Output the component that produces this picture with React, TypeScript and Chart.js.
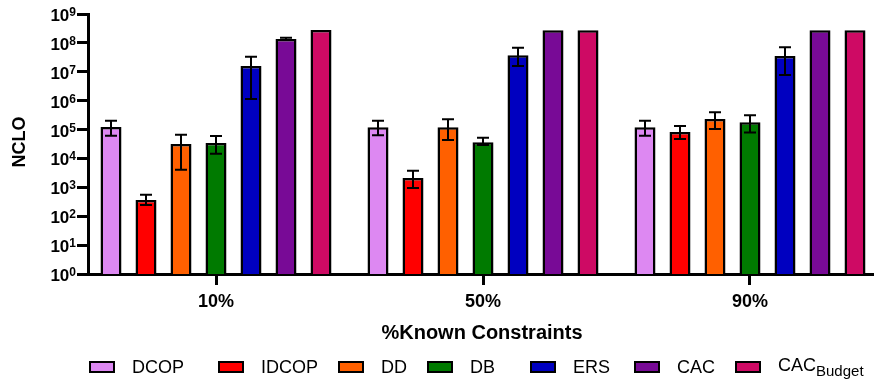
import React, { useEffect, useRef } from 'react';
import { Chart, registerables } from 'chart.js';

Chart.register(...registerables);

const categories = ['10%', '50%', '90%'];
const seriesNames = ['DCOP', 'IDCOP', 'DD', 'DB', 'ERS', 'CAC', 'CAC_Budget'];
const seriesColors = ['#DD88F2', '#FF0000', '#FF6000', '#007A00', '#0000C0', '#780A96', '#CE0A64'];

const dcopValues = [1.22e5, 1.19e5, 1.19e5];
const idcopValues = [364, 2100, 8.2e4];
const ddValues = [3.16e4, 1.19e5, 2.32e5];
const dbValues = [3.42e4, 3.6e4, 1.78e5];
const ersValues = [1.58e7, 3.7e7, 3.5e7];
const cacValues = [1.36e8, 2.75e8, 2.75e8];
const cacBudgetValues = [2.78e8, 2.75e8, 2.75e8];

const dcopHigh = [2.0e5, 2.0e5, 2.0e5];
const dcopLow = [6.1e4, 6.3e4, 6.1e4];
const idcopHigh = [556, 3770, 1.33e5];
const idcopLow = [245, 948, 4.7e4];
const ddHigh = [6.6e4, 2.26e5, 3.98e5];
const ddLow = [4.07e3, 4.35e4, 1.04e5];
const dbHigh = [6.0e4, 5.2e4, 3.1e5];
const dbLow = [1.46e4, 2.92e4, 7.98e4];
const ersHigh = [3.3e7, 6.8e7, 7.0e7];
const ersLow = [1.14e6, 1.58e7, 7.7e6];
const cacHigh = [1.5e8, null, null];
const cacLow = [1.25e8, null, null];
const cacBudgetHigh = [null, null, null];
const cacBudgetLow = [null, null, null];

const yExponents = [0, 1, 2, 3, 4, 5, 6, 7, 8, 9];
const xTitle = '%Known Constraints';
const yTitle = 'NCLO';

const allValues = [dcopValues, idcopValues, ddValues, dbValues, ersValues, cacValues, cacBudgetValues];
const allHigh = [dcopHigh, idcopHigh, ddHigh, dbHigh, ersHigh, cacHigh, cacBudgetHigh];
const allLow = [dcopLow, idcopLow, ddLow, dbLow, ersLow, cacLow, cacBudgetLow];

const FONT = '"Liberation Sans", Arial, sans-serif';

const errorBarPlugin = {
  id: 'errorBars',
  afterDatasetsDraw(chart: any) {
    const ctx = chart.ctx;
    const yScale = chart.scales.y;
    ctx.save();
    ctx.strokeStyle = '#000';
    ctx.lineWidth = 2;
    chart.data.datasets.forEach((ds: any, di: number) => {
      const meta = chart.getDatasetMeta(di);
      meta.data.forEach((el: any, i: number) => {
        const hi = allHigh[di][i];
        const lo = allLow[di][i];
        if (hi == null || lo == null) return;
        const x = el.x;
        const yh = yScale.getPixelForValue(hi);
        const yl = yScale.getPixelForValue(lo);
        const cap = 6;
        ctx.beginPath();
        ctx.moveTo(x, yh);
        ctx.lineTo(x, yl);
        ctx.moveTo(x - cap, yh);
        ctx.lineTo(x + cap, yh);
        ctx.moveTo(x - cap, yl);
        ctx.lineTo(x + cap, yl);
        ctx.stroke();
      });
    });
    ctx.restore();
  },
};

const axisTextPlugin = {
  id: 'axisText',
  afterDraw(chart: any) {
    const ctx = chart.ctx;
    const yScale = chart.scales.y;
    const xScale = chart.scales.x;
    ctx.save();
    ctx.fillStyle = '#000';
    const labelRight = yScale.right - 12;
    yExponents.forEach((e) => {
      const py = yScale.getPixelForValue(Math.pow(10, e));
      ctx.textAlign = 'right';
      ctx.textBaseline = 'alphabetic';
      ctx.font = `bold 12px ${FONT}`;
      const ew = ctx.measureText(String(e)).width;
      ctx.fillText(String(e), labelRight, py + 2);
      ctx.font = `bold 17px ${FONT}`;
      ctx.fillText('10', labelRight - ew, py + 7);
    });
    ctx.textAlign = 'center';
    ctx.textBaseline = 'middle';
    ctx.font = `bold 18px ${FONT}`;
    categories.forEach((c, i) => {
      ctx.fillText(c, xScale.getPixelForValue(i), xScale.top + 28.5);
    });
    ctx.font = `bold 20px ${FONT}`;
    ctx.fillText(xTitle, xScale.getPixelForValue(1) - 1, xScale.top + 59);
    ctx.font = `bold 18px ${FONT}`;
    ctx.translate(20, (yScale.top + yScale.bottom) / 2 - 2);
    ctx.rotate(-Math.PI / 2);
    ctx.fillText(yTitle, 0, 0);
    ctx.restore();
  },
};

const legendLefts = [89, 218, 338, 427, 530, 634, 735];

export default function App() {
  const canvasRef = useRef<HTMLCanvasElement | null>(null);

  useEffect(() => {
    const canvas = canvasRef.current;
    if (!canvas) return;
    const unit = 267;
    const xMin = -(216 - 88) / unit;
    const xMax = xMin + (874 - 88) / unit;
    const chart = new Chart(canvas, {
      type: 'bar',
      data: {
        datasets: seriesNames.map((name, di) => ({
          label: name,
          data: allValues[di].map((v, i) => ({ x: i, y: v })),
          backgroundColor: seriesColors[di],
          borderColor: '#000',
          borderWidth: 2.5,
          borderSkipped: 'start',
          categoryPercentage: 245 / 267,
          barPercentage: 0.6,
        })),
      },
      options: {
        responsive: false,
        animation: false,
        devicePixelRatio: 1,
        layout: { padding: { top: 14, right: 0, left: 0, bottom: 0 } },
        plugins: {
          legend: { display: false },
          tooltip: { enabled: false },
        },
        scales: {
          x: {
            type: 'linear',
            min: xMin,
            max: xMax,
            offset: false,
            bounds: 'data',
            afterBuildTicks: (s: any) => {
              s.ticks = categories.map((_, i) => ({ value: i }));
            },
            afterFit: (s: any) => {
              s.height = 383 - 274;
            },
            ticks: { display: false },
            grid: {
              offset: false,
              drawOnChartArea: false,
              drawTicks: true,
              tickLength: 11,
              tickWidth: 3,
              tickColor: '#000',
            },
            border: { display: true, color: '#000', width: 3 },
          },
          y: {
            type: 'logarithmic',
            min: 1,
            max: 1e9,
            afterBuildTicks: (s: any) => {
              s.ticks = yExponents.map((e) => ({ value: Math.pow(10, e) }));
            },
            afterFit: (s: any) => {
              s.width = 88;
            },
            ticks: { display: false },
            grid: {
              drawOnChartArea: false,
              drawTicks: true,
              tickLength: 11,
              tickWidth: 3,
              tickColor: '#000',
            },
            border: { display: true, color: '#000', width: 3 },
          },
        },
      },
      plugins: [errorBarPlugin, axisTextPlugin],
    } as any);
    return () => chart.destroy();
  }, []);

  return (
    <div style={{ position: 'fixed', left: 0, top: 0, width: 874, height: 383, overflow: 'hidden', background: '#fff' }}>
      <canvas ref={canvasRef} width={874} height={383} style={{ position: 'absolute', left: 0, top: 0, width: 874, height: 383 }} />
      {seriesNames.map((name, i) => (
        <div
          key={name}
          style={{
            position: 'absolute',
            left: legendLefts[i],
            top: 356,
            height: 22,
            display: 'flex',
            alignItems: 'center',
            fontFamily: FONT,
            fontSize: 18,
            color: '#000',
            whiteSpace: 'nowrap',
          }}
        >
          <span
            style={{
              display: 'inline-block',
              boxSizing: 'border-box',
              width: 26,
              height: 12,
              background: seriesColors[i],
              border: '2px solid #000',
              marginRight: 17,
            }}
          />
          {name === 'CAC_Budget' ? (
            <span>
              CAC<sub style={{ fontSize: 15 }}>Budget</sub>
            </span>
          ) : (
            <span>{name}</span>
          )}
        </div>
      ))}
    </div>
  );
}
